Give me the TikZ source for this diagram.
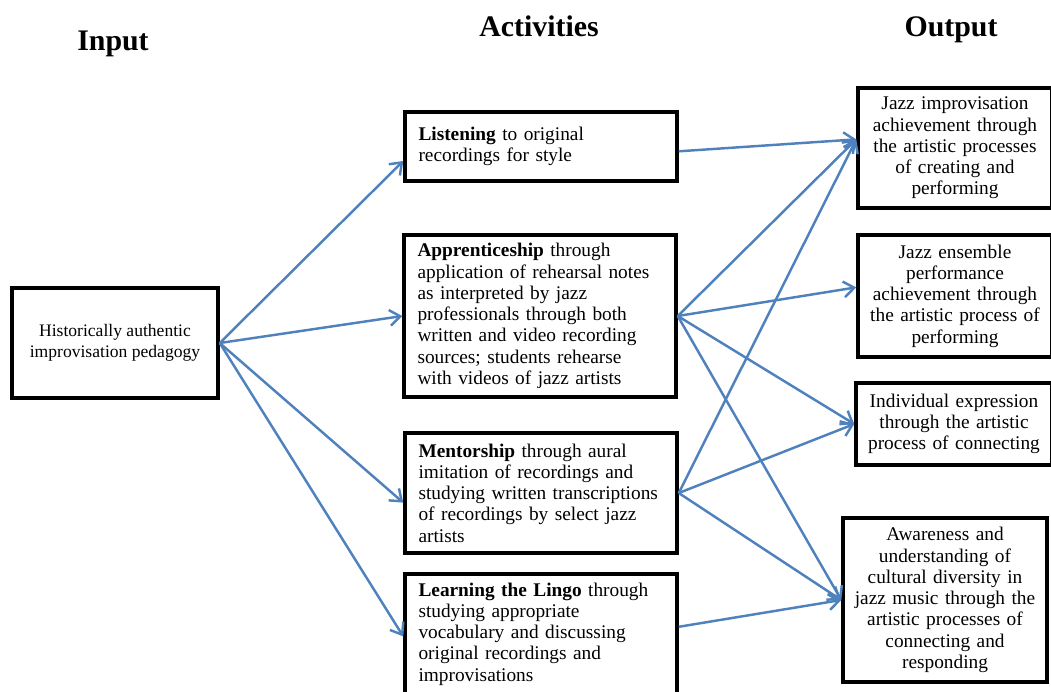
\documentclass[tikz,border=0pt]{standalone}
\usepackage{fontspec}
\setmainfont{Liberation Serif}
\usetikzlibrary{arrows.meta}
\definecolor{linkblue}{RGB}{79,129,189}

\begin{document}
\begin{tikzpicture}[x=0.02cm, y=-0.02cm,
    box/.style={draw, line width=2pt, inner sep=0pt, font=\fontsize{11}{12.1}\selectfont},
    actbox/.style={box, align=left, text width=4.9cm, minimum width=5.44cm},
    outbox/.style={box, align=center, text width=3.7cm},
    heading/.style={font=\fontsize{17}{20}\selectfont\bfseries, anchor=base},
    link/.style={draw=linkblue, line width=1.4pt, -{Straight Barb[length=6pt,width=9pt]}}]
  \useasboundingbox (0,0) rectangle (1051,691);

  % column headings
  \node[heading] (hin) at (113,50) {Input};
  \node[heading] (hact) at (539,36) {Activities};
  \node[heading] (hout) at (951,36) {Output};

  % input
  \node[box, align=center, font=\fontsize{10}{12}\selectfont,
    minimum width=4.12cm, minimum height=2.2cm] (in) at (115,343)
    {Historically authentic\\improvisation pedagogy};

  % activities
  \node[actbox, minimum height=1.38cm] (listen) at (541,146.5)
    {\textbf{Listening} to original\\recordings for style};
  \node[actbox, minimum height=3.24cm] (appr) at (540,316)
    {\textbf{Apprenticeship} through\\application of rehearsal notes\\
     as interpreted by jazz\\professionals through both\\
     written and video recording\\sources; students rehearse\\
     with videos of jazz artists};
  \node[actbox, minimum height=2.4cm] (ment) at (541,493)
    {\textbf{Mentorship} through aural\\imitation of recordings and\\
     studying written transcriptions\\of recordings by select jazz\\artists};
  \node[actbox, minimum height=2.4cm] (lingo) at (541,634)
    {\textbf{Learning the Lingo} through\\studying appropriate\\
     vocabulary and discussing\\original recordings and\\improvisations};

  % outputs
  \node[outbox, minimum width=3.88cm, minimum height=2.4cm] (impro) at (955,148)
    {Jazz improvisation\\achievement through\\the artistic processes\\
     of creating and\\performing};
  \node[outbox, minimum width=3.88cm, minimum height=2.44cm] (ens) at (955,296)
    {Jazz ensemble\\performance\\achievement through\\
     the artistic process of\\performing};
  \node[outbox, minimum width=3.92cm, minimum height=1.64cm] (indiv) at (954,424)
    {Individual expression\\through the artistic\\process of connecting};
  \node[outbox, minimum width=4.08cm, minimum height=3.28cm] (aware) at (945,600)
    {Awareness and\\understanding of\\cultural diversity in\\
     jazz music through the\\artistic processes of\\
     connecting and\\responding};

  % input to activities
  \draw[link] (in.east) -- (listen.186);
  \draw[link] (in.east) -- (appr.west);
  \draw[link] (in.east) -- (ment.184);
  \draw[link] (in.east) -- (lingo.181);

  % activities to outputs
  \draw[link] (listen.358) -- (impro.175);
  \draw[link] (appr.east) -- (impro.175);
  \draw[link] (appr.east) -- (ens.175);
  \draw[link] (appr.east) -- (indiv.west);
  \draw[link] (appr.east) -- (aware.west);
  \draw[link] (ment.east) -- (impro.175);
  \draw[link] (ment.east) -- (indiv.west);
  \draw[link] (ment.east) -- (aware.west);
  \draw[link] (lingo.3) -- (aware.west);
\end{tikzpicture}
\end{document}
